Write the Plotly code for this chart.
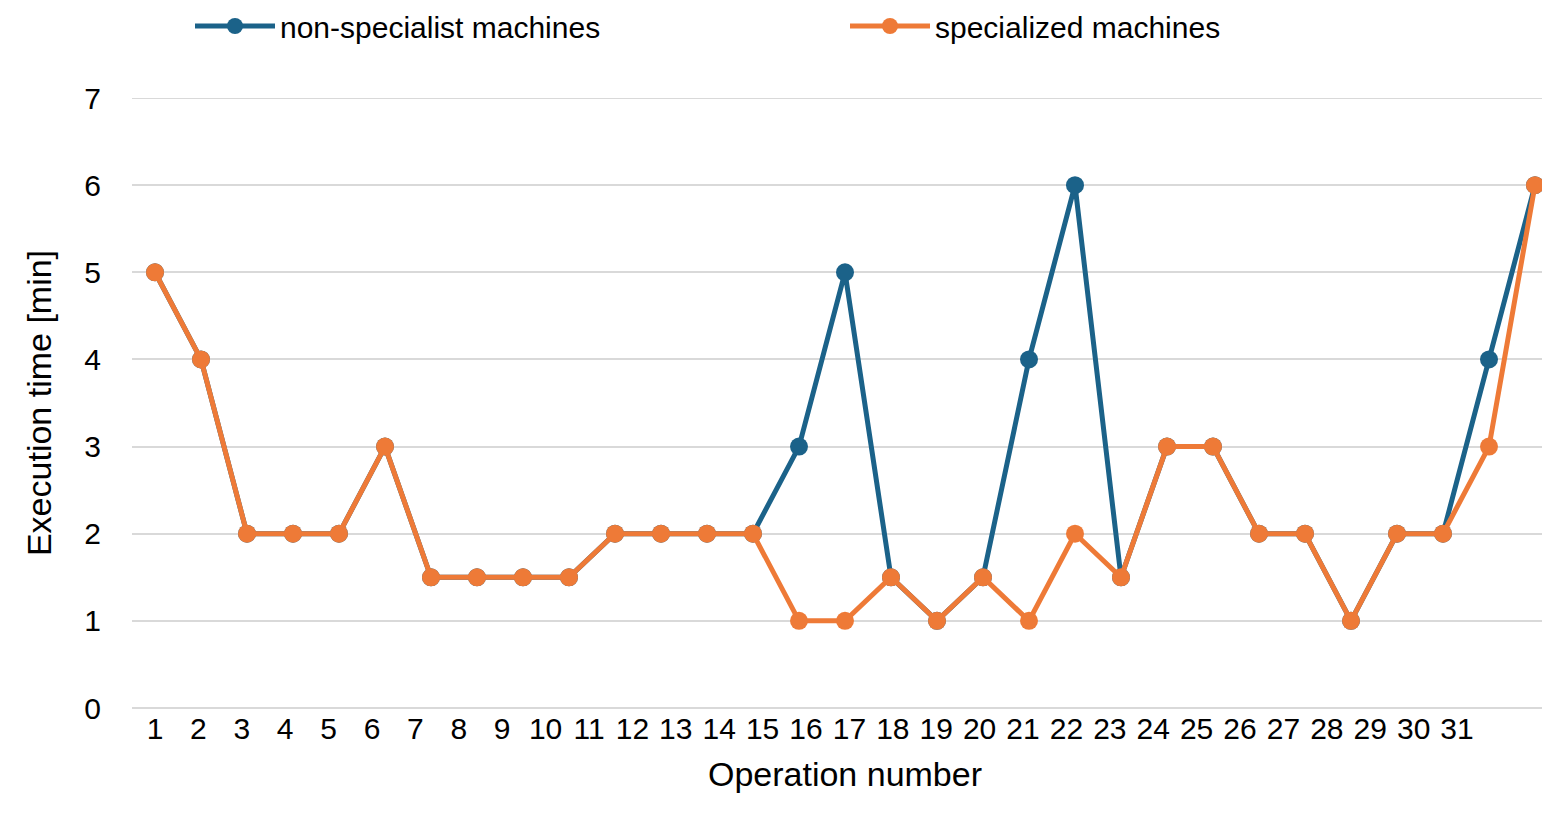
import plotly.graph_objects as go

ops = list(range(1, 32))
specialized = [5,4,2,2,2,3,1.5,1.5,1.5,1.5,2,2,2,2,1,1,1.5,1,1.5,1,2,1.5,3,3,2,2,1,2,2,3,6]
non_specialist = [5,4,2,2,2,3,1.5,1.5,1.5,1.5,2,2,2,2,3,5,1.5,1,1.5,4,6,1.5,3,3,2,2,1,2,2,4,6]
tick_labels = [str(i) for i in range(1, 32)]
label_step = 0.9435  # labels in the reference drift relative to points
tick_pos = [1 + (i - 1) * label_step for i in range(1, 32)]

fig = go.Figure()
fig.add_trace(go.Scatter(x=ops, y=non_specialist, mode="lines+markers", name="non-specialist machines",
                         line=dict(color="#1b6289", width=5), marker=dict(size=18, color="#1b6289")))
fig.add_trace(go.Scatter(x=ops, y=specialized, mode="lines+markers", name="specialized machines",
                         line=dict(color="#ee7a37", width=5), marker=dict(size=18, color="#ee7a37")))
fig.update_layout(
    width=1550, height=821, plot_bgcolor="white", paper_bgcolor="white",
    margin=dict(l=124, r=0, t=90, b=121, autoexpand=False),
    font=dict(family="Liberation Sans, Arial", size=30, color="#000"),
    legend=dict(orientation="h", x=0.5, xanchor="center", y=1.118, yanchor="middle",
                font=dict(size=30), itemwidth=80, entrywidth=560),
    xaxis=dict(range=[0.5, 31.5], tickmode="array", tickvals=tick_pos, ticktext=tick_labels,
               showgrid=False, showline=False, zeroline=False, ticks="",
               title=dict(text="Operation number", font=dict(size=34), standoff=18)),
    yaxis=dict(range=[0, 7], dtick=1, gridcolor="#d9d9d9", gridwidth=2, zeroline=True,
               zerolinecolor="#d9d9d9", zerolinewidth=2,
               showline=False, ticks="", ticklabelstandoff=30,
               title=dict(text="Execution time [min]", font=dict(size=34), standoff=22)),
)
fig.add_shape(type="line", xref="paper", yref="y", x0=0, x1=1, y0=7, y1=7,
              line=dict(color="#d9d9d9", width=2), layer="below")
fig.write_html("out.html")
